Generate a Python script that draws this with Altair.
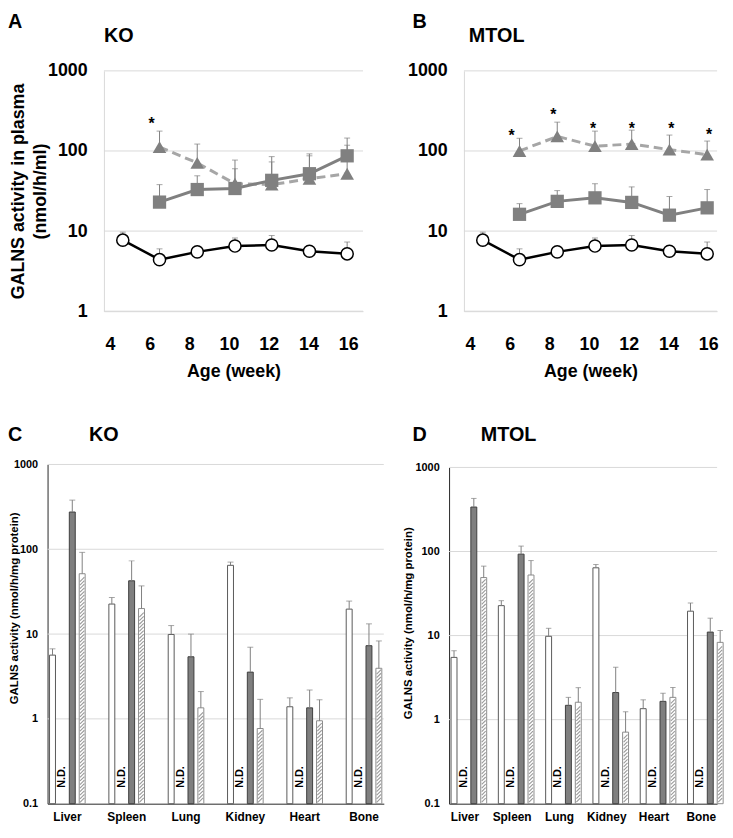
import altair as alt
import pandas as pd

FONT = "Liberation Sans"
GRID = "#d9d9d9"
AXIS_DARK = "#262626"
ERR = "#808080"

# ---------------- data: plasma (panels A, B) ----------------
weeks = [4.65, 6.5, 8.4, 10.3, 12.15, 14.05, 15.95]
wt_plasma = [7.7, 4.4, 5.5, 6.5, 6.7, 5.6, 5.2]
wt_plasma_up = [9.7, 6.0, 5.5, 8.2, 8.8, 5.6, 7.3]

ko_sq = [23, 33, 34, 43, 52, 87]
ko_sq_up = [38, 49, 60, 85, 92, 145]
ko_tri = [112, 71, 39, 38, 45, 52]
ko_tri_up = [177, 122, 77, 73, 87, 118]

mtol_sq = [16.2, 23.5, 26, 22.8, 15.8, 19.5]
mtol_sq_up = [22, 32, 39, 35.6, 27, 33]
mtol_tri = [100, 152, 115, 122, 104, 90]
mtol_tri_up = [144, 229, 177, 182, 158, 133]

ko_star_weeks = [6.1]
ko_star_vals = [241]
mtol_star_weeks = [6.1, 8.2, 10.2, 12.15, 14.15, 16.05]
mtol_star_vals = [172, 312, 209, 209, 209, 177]

age_ticks = [4, 6, 8, 10, 12, 14, 16]
plasma_ticks = [1, 10, 100, 1000]

# ---------------- data: tissues (panels C, D) ----------------
tissues = ["Liver", "Spleen", "Lung", "Kidney", "Heart", "Bone"]
series_order = ["Wild-type", "Untreated", "Treatment 1", "Treatment 2"]
tissue_ticks = [0.1, 1, 10, 100, 1000]

ko_wt = [5.65, 22.6, 9.9, 64.7, 1.39, 19.7]
ko_wt_up = [6.7, 27, 12.6, 70.6, 1.77, 24.5]
ko_t1 = [275, 42.5, 5.4, 3.56, 1.35, 7.3]
ko_t1_up = [380, 73, 10, 7.0, 2.19, 13.2]
ko_t2 = [51.5, 20, 1.35, 0.77, 0.95, 3.95]
ko_t2_up = [92, 37, 2.1, 1.7, 1.68, 8.3]

mtol_wt = [5.5, 22.7, 9.8, 64, 1.35, 19.5]
mtol_wt_up = [6.6, 26, 12.2, 70, 1.72, 24.4]
mtol_t1 = [338, 93, 1.48, 2.1, 1.65, 11]
mtol_t1_up = [428, 116, 1.84, 4.2, 2.06, 16.1]
mtol_t2 = [49, 52.5, 1.61, 0.71, 1.84, 8.3]
mtol_t2_up = [67, 78, 2.4, 1.24, 2.41, 11.5]

nd_label = "N.D."


def plasma_frame(sq, sq_up, tri, tri_up):
    rows = []
    for w, v, u in zip(weeks, wt_plasma, wt_plasma_up):
        rows.append({"week": w, "value": v, "upper": u, "series": "Wild-type"})
    for w, v, u in zip(weeks[1:], sq, sq_up):
        rows.append({"week": w, "value": v, "upper": u, "series": "Treatment 1"})
    for w, v, u in zip(weeks[1:], tri, tri_up):
        rows.append({"week": w, "value": v, "upper": u, "series": "Treatment 2"})
    return pd.DataFrame(rows)


def label_layer(text, x, y, size=20):
    return alt.Chart(pd.DataFrame({"t": [text]})).mark_text(
        align="left", baseline="alphabetic", font=FONT, fontSize=size,
        fontWeight="bold", color="black"
    ).encode(text="t:N", x=alt.value(x), y=alt.value(y))


LINE_TOP = 59      # room above the plot for the panel letter / name
LINE_H = 243


def line_panel(df, star_w, star_v, letter, name, letter_x, name_x, with_title,
               plot_x, plot_w, x_max):
    view_h = LINE_TOP + LINE_H
    xs = alt.Scale(domain=[3.7, x_max], range=[plot_x, plot_x + plot_w], nice=False, zero=False)
    xaxis = alt.Axis(
        values=age_ticks, title="Age (week)", grid=False, ticks=False, tickSize=0,
        domainColor=GRID, labelFont=FONT, labelFontSize=18, labelFontWeight="bold",
        labelColor="black", labelBaseline="alphabetic", labelPadding=39,
        labelFlush=False, labelOverlap=False, titleFont=FONT, titleFontSize=18,
        titleFontWeight="bold", titleColor="black", titleBaseline="alphabetic",
        titleY=66,
    )
    ykw = dict(
        values=plasma_ticks, format="~g", grid=False, offset=-plot_x,
        ticks=False, tickSize=0, domainColor=GRID, labelFont=FONT, labelFontSize=18,
        labelFontWeight="bold", labelColor="black", labelPadding=17,
        labelFlush=False, labelOverlap=False,
    )
    if with_title:
        ykw.update(
            title=["GALNS activity in plasma", "(nmol/h/ml)"], titleFont=FONT,
            titleFontSize=18, titleFontWeight="bold", titleColor="black",
            titleLineHeight=22, titleBaseline="alphabetic", titleX=-81,
            titleY=LINE_TOP + LINE_H / 2,
        )
    else:
        ykw.update(title=None)
    yaxis = alt.Axis(**ykw)
    ys = alt.Scale(type="log", domain=[1, 1000], range=[view_h, LINE_TOP], nice=False)
    X = alt.X("week:Q", scale=xs, axis=xaxis)

    def Y(field):
        return alt.Y(f"{field}:Q", scale=ys, axis=yaxis)

    grid = alt.Chart(pd.DataFrame({"value": plasma_ticks})).mark_rule(
        color=GRID, strokeWidth=1).encode(
        y=Y("value"), x=alt.value(plot_x), x2=alt.value(plot_x + plot_w))
    base = alt.Chart(df)
    err = base.mark_rule(color=ERR, strokeWidth=1).encode(x=X, y=Y("value"), y2="upper:Q")
    cap = base.mark_tick(color=ERR, orient="horizontal", size=6, thickness=1).encode(
        x=X, y=Y("upper"))
    tri_line = base.transform_filter("datum.series == 'Treatment 2'").mark_line(
        color="#a6a6a6", strokeWidth=3, strokeDash=[9, 5]).encode(x=X, y=Y("value"))
    sq_line = base.transform_filter("datum.series == 'Treatment 1'").mark_line(
        color="#808080", strokeWidth=3).encode(x=X, y=Y("value"))
    wt_line = base.transform_filter("datum.series == 'Wild-type'").mark_line(
        color="black", strokeWidth=2.5).encode(x=X, y=Y("value"))
    tri_pts = base.transform_filter("datum.series == 'Treatment 2'").mark_point(
        shape="triangle-up", filled=True, color="#808080", size=190, opacity=1
    ).encode(x=X, y=Y("value"))
    sq_pts = base.transform_filter("datum.series == 'Treatment 1'").mark_point(
        shape="square", filled=True, color="#808080", size=180, opacity=1
    ).encode(x=X, y=Y("value"))
    wt_pts = base.transform_filter("datum.series == 'Wild-type'").mark_point(
        shape="circle", filled=True, fill="white", stroke="black", strokeWidth=1.5,
        size=150, opacity=1).encode(x=X, y=Y("value"))
    stars = alt.Chart(pd.DataFrame({"week": star_w, "value": star_v})).mark_text(
        text="*", font=FONT, fontSize=16, fontWeight="bold", color="black", dy=4
    ).encode(x=X, y=Y("value"))
    return alt.layer(
        grid, err, cap, tri_line, sq_line, wt_line, tri_pts, sq_pts, wt_pts, stars,
        label_layer(letter, letter_x, 16), label_layer(name, name_x, 30),
    ).properties(width=plot_x + plot_w, height=view_h)


def bar_frames(wt, wt_up, t1, t1_up, t2, t2_up):
    rows = []
    for s, vals, ups in [("Wild-type", wt, wt_up), ("Treatment 1", t1, t1_up),
                         ("Treatment 2", t2, t2_up)]:
        for t, v, u in zip(tissues, vals, ups):
            rows.append({"tissue": t, "series": s, "value": v, "upper": u})
    nd = pd.DataFrame({"tissue": tissues, "series": ["Untreated"] * len(tissues),
                       "label": [nd_label] * len(tissues)})
    return pd.DataFrame(rows), nd


BAR_VIEW_H = 383


def bar_panel(bars, nd, letter, name, letter_x, name_x, plot_x, plot_top, plot_w,
              slot_pi, cap_size, hatch_size, title_x, title_y):
    X = alt.X("tissue:N",
              scale=alt.Scale(domain=tissues, range=[plot_x, plot_x + plot_w],
                              paddingInner=0.333, paddingOuter=0),
              axis=alt.Axis(title=None, labelAngle=0, grid=False, ticks=False, tickSize=0,
                            domainColor=AXIS_DARK, labelFont=FONT, labelFontSize=12,
                            labelFontWeight="bold", labelColor="black",
                            labelBaseline="alphabetic", labelPadding=17))
    XO = alt.XOffset("series:N", scale=alt.Scale(domain=series_order, paddingInner=slot_pi,
                                                  paddingOuter=slot_pi / 2))
    ys = alt.Scale(type="log", domain=[0.1, 1000], range=[BAR_VIEW_H, plot_top], nice=False)
    yaxis = alt.Axis(
        values=tissue_ticks, format="~g", grid=False, offset=-plot_x,
        ticks=False, tickSize=0, domainColor=AXIS_DARK, labelFont=FONT, labelFontSize=11,
        labelFontWeight="bold", labelColor="black", labelPadding=10, labelFlush=False,
        labelOverlap=False, title="GALNS activity (nmol/h/mg protein)", titleFont=FONT,
        titleFontSize=11.5, titleFontWeight="bold", titleColor="black",
        titleBaseline="alphabetic", titleX=title_x, titleY=title_y,
    )

    def Y(field):
        return alt.Y(f"{field}:Q", scale=ys, axis=yaxis)

    grid = alt.Chart(pd.DataFrame({"value": tissue_ticks[1:]})).mark_rule(
        color=GRID, strokeWidth=1).encode(
        y=Y("value"), x=alt.value(plot_x), x2=alt.value(plot_x + plot_w))
    base = alt.Chart(bars)
    bar = base.mark_bar(strokeWidth=1).encode(
        x=X, xOffset=XO, y=Y("value"), y2=alt.datum(0.1),
        fill=alt.Fill("series:N", scale=alt.Scale(
            domain=["Wild-type", "Treatment 1", "Treatment 2"],
            range=["#ffffff", "#7f7f7f", "#ffffff"]), legend=None),
        stroke=alt.Stroke("series:N", scale=alt.Scale(
            domain=["Wild-type", "Treatment 1", "Treatment 2"],
            range=["#595959", "#3f3f3f", "#8c8c8c"]), legend=None),
    )
    hatch = base.transform_filter("datum.series == 'Treatment 2'").transform_calculate(
        k="sequence(1, 120)").transform_flatten(["k"]).transform_calculate(
        sv="0.1 * pow(10, datum.k * 0.042)").transform_filter(
        "datum.sv * 1.1 <= datum.value").mark_point(
        shape="M-1,1L1,-1", size=hatch_size, filled=False, stroke="#9a9a9a",
        strokeWidth=1.1, opacity=1).encode(x=X, xOffset=XO, y=Y("sv"))
    err = base.mark_rule(color=ERR, strokeWidth=1).encode(
        x=X, xOffset=XO, y=Y("value"), y2="upper:Q")
    cap = base.mark_tick(color=ERR, orient="horizontal", size=cap_size, thickness=1).encode(
        x=X, xOffset=XO, y=Y("upper"))
    ndt = alt.Chart(nd).mark_text(
        angle=270, font=FONT, fontSize=11, fontWeight="bold", color="black",
        align="center", baseline="middle").encode(
        x=X, xOffset=XO, y=alt.value(BAR_VIEW_H - 27), text="label:N")
    return alt.layer(
        grid, bar, hatch, err, cap, ndt,
        label_layer(letter, letter_x, 16), label_layer(name, name_x, 16),
    ).properties(width=plot_x + plot_w, height=BAR_VIEW_H)


panel_a = line_panel(plasma_frame(ko_sq, ko_sq_up, ko_tri, ko_tri_up),
                     ko_star_weeks, ko_star_vals, "A", "KO", 0, 97, True,
                     97, 262, 16.75)
panel_b = line_panel(plasma_frame(mtol_sq, mtol_sq_up, mtol_tri, mtol_tri_up),
                     mtol_star_weeks, mtol_star_vals, "B", "MTOL", 7, 64, False,
                     59, 256, 16.45)

c_bars, c_nd = bar_frames(ko_wt, ko_wt_up, ko_t1, ko_t1_up, ko_t2, ko_t2_up)
d_bars, d_nd = bar_frames(mtol_wt, mtol_wt_up, mtol_t1, mtol_t1_up, mtol_t2, mtol_t2_up)

panel_c = bar_panel(c_bars, c_nd, "C", "KO", 0, 82, 40, 40, 340, 0.4, 6, 20, -30, 185)
panel_d = bar_panel(d_bars, d_nd, "D", "MTOL", 11, 80, 48, 43, 271, 0.33, 5.5, 16, -38, 200)

row1 = alt.hconcat(panel_a, panel_b, spacing=42)
row2 = alt.hconcat(panel_c, panel_d, spacing=17)

chart = alt.vconcat(row1, row2, spacing=45).properties(padding=0).configure(
    font=FONT, view=alt.ViewConfig(stroke=None))

chart.save("out.html", embed_options={"renderer": "svg", "actions": False})
